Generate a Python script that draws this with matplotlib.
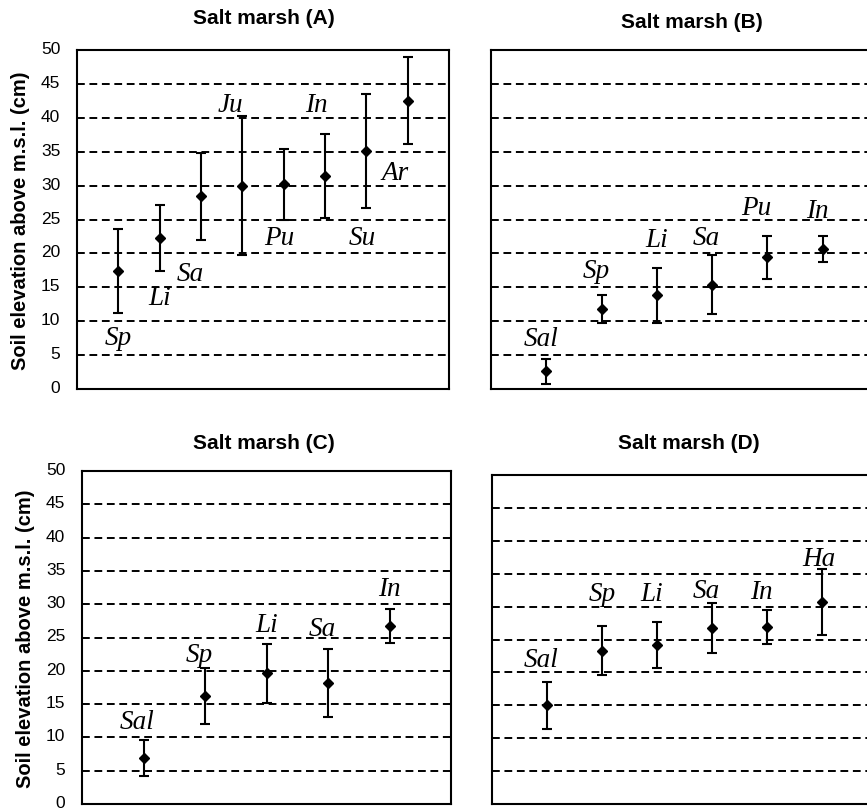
import matplotlib
matplotlib.use('Agg')
from matplotlib import pyplot as plt
from matplotlib import transforms

# species codes, mean elevation and error (cm above m.s.l.) per salt marsh
species_a = ['Sp', 'Li', 'Sa', 'Ju', 'Pu', 'In', 'Su', 'Ar']
mean_a = [17.4, 22.3, 28.4, 30.0, 30.2, 31.4, 35.1, 42.5]
err_a = [6.2, 4.9, 6.4, 10.3, 5.2, 6.2, 8.4, 6.4]

species_b = ['Sal', 'Sp', 'Li', 'Sa', 'Pu', 'In']
mean_b = [2.6, 11.8, 13.8, 15.4, 19.4, 20.6]
err_b = [1.8, 2.0, 4.0, 4.4, 3.2, 1.9]

species_c = ['Sal', 'Sp', 'Li', 'Sa', 'In']
mean_c = [6.9, 16.2, 19.6, 18.2, 26.7]
err_c = [2.7, 4.2, 4.4, 5.1, 2.6]

species_d = ['Sal', 'Sp', 'Li', 'Sa', 'In', 'Ha']
mean_d = [15.0, 23.3, 24.2, 26.7, 26.9, 30.7]
err_d = [3.6, 3.7, 3.5, 3.8, 2.6, 5.0]

# where each species name sits (y in cm, x shift in slots)
label_y_a = [7.6, 13.5, 17.0, 42.0, 22.4, 42.0, 22.4, 32.0]
label_dx_a = [0.0, 0.0, -0.25, -0.3, -0.1, -0.2, -0.1, -0.3]
label_y_b = [7.4, 17.5, 22.0, 22.4, 26.8, 26.3]
label_dx_b = [-0.1, -0.1, 0.0, -0.1, -0.2, -0.1]
label_y_c = [12.4, 22.4, 27.0, 26.4, 32.4]
label_dx_c = [-0.1, -0.1, 0.0, -0.1, 0.0]
label_y_d = [21.9, 32.0, 32.0, 32.5, 32.3, 37.3]
label_dx_d = [-0.1, 0.0, -0.1, -0.1, -0.1, -0.05]

W, H = 867, 812
fig = plt.figure(figsize=(W / 100, H / 100), dpi=100)

def box(left, top, width, bottom):
    return [left / W, (H - bottom) / H, width / W, (bottom - top) / H]

panels = [
    ('Salt marsh (A)', box(77, 51, 372, 390), (264, 19), 9,
     species_a, mean_a, err_a, label_y_a, label_dx_a, True),
    ('Salt marsh (B)', box(491, 51, 387, 390), (692, 22), 7,
     species_b, mean_b, err_b, label_y_b, label_dx_b, False),
    ('Salt marsh (C)', box(82, 472, 369, 805), (264, 444), 6,
     species_c, mean_c, err_c, label_y_c, label_dx_c, True),
    ('Salt marsh (D)', box(492, 476, 385, 805), (689, 444), 7,
     species_d, mean_d, err_d, label_y_d, label_dx_d, False),
]

for title, rect, tpos, nslots, names, means, errs, lab_y, lab_dx, show_y in panels:
    ax = fig.add_axes(rect)
    x = list(range(1, len(names) + 1))
    for yy in range(5, 50, 5):
        ax.axhline(yy, color='black', lw=1.4, linestyle=(0, (4, 2.4)), zorder=1)
    ax.errorbar(x, means, yerr=errs, fmt='D', color='black', ms=5.5,
                elinewidth=1.5, capsize=3.6, capthick=1.5, zorder=3)
    for xi, name, ly, dx in zip(x, names, lab_y, lab_dx):
        ax.text(xi + dx, ly, name, ha='center', va='center', fontsize=19.5,
                style='italic', family='Liberation Serif', zorder=4)
    ax.set_xlim(0, nslots)
    ax.set_ylim(0, 50)
    ax.set_xticks([])
    ax.set_yticks(range(0, 51, 5))
    ax.tick_params(axis='y', length=0, pad=12, labelsize=12.5)
    # lift the numbers a touch so the bottom "0" stays inside the figure
    lift = transforms.ScaledTranslation(0, 3 / 100, fig.dpi_scale_trans)
    for tl in ax.get_yticklabels():
        tl.set_family('Liberation Sans')
        tl.set_transform(tl.get_transform() + lift)
    if not show_y:
        ax.set_yticklabels([])
    else:
        ax.set_ylabel('Soil elevation above m.s.l. (cm)', fontsize=14.5,
                      fontweight='bold', family='Liberation Sans', labelpad=8)
    for sp in ax.spines.values():
        sp.set_linewidth(1.5)
    fig.text(tpos[0] / W, 1 - tpos[1] / H, title, ha='center', va='center',
             fontsize=15, fontweight='bold', family='Liberation Sans')

fig.savefig('out.png', dpi=100)
